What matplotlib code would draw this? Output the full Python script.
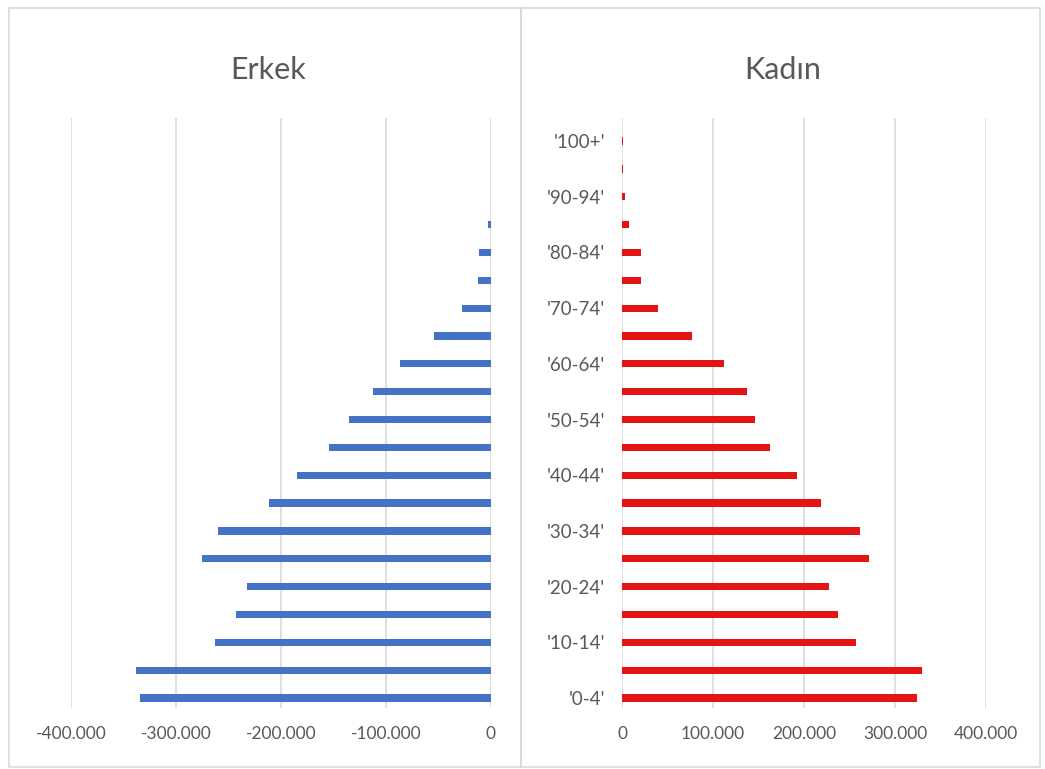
import matplotlib
matplotlib.use("Agg")
import matplotlib.pyplot as plt
from matplotlib.ticker import FuncFormatter
from matplotlib.patches import Rectangle
import numpy as np

# age groups, bottom to top
age_groups = ["'0-4'", "'5-9'", "'10-14'", "'15-19'", "'20-24'", "'25-29'", "'30-34'",
              "'35-39'", "'40-44'", "'45-49'", "'50-54'", "'55-59'", "'60-64'", "'65-69'",
              "'70-74'", "'75-79'", "'80-84'", "'85-89'", "'90-94'", "'95-99'", "'100+'"]

# male population (drawn as negative values)
erkek = [-334000, -338000, -263000, -243000, -232000, -275000, -260000,
         -211000, -185000, -154000, -135000, -112000, -87000, -54000,
         -28000, -12000, -11000, -3000, 0, 0, 0]

# female population
kadin = [324000, 330000, 257000, 237000, 227000, 271000, 262000,
         219000, 192000, 163000, 146000, 137000, 112000, 77000,
         40000, 21000, 21000, 8000, 3500, 1200, 1200]

left_ticks = [-400000, -300000, -200000, -100000, 0]
right_ticks = [0, 100000, 200000, 300000, 400000]

plt.rcParams['font.family'] = ['Lato', 'DejaVu Sans']
txt_col = '#595959'
grid_col = '#d9d9d9'

def fmt(v, pos):
    s = f"{abs(int(v)):,}".replace(",", ".")
    return ("-" + s) if v < 0 else s

fig = plt.figure(figsize=(10.45, 7.69), dpi=100)

# chart boxes
fig.patches.append(Rectangle((9/1045, 1-767/769), 512/1045, 759/769, transform=fig.transFigure,
                             fill=False, edgecolor=grid_col, lw=1.2))
fig.patches.append(Rectangle((521/1045, 1-767/769), 519/1045, 759/769, transform=fig.transFigure,
                             fill=False, edgecolor=grid_col, lw=1.2))

y = np.arange(len(age_groups))
bottom = 1 - 708/769
height = 590/769

ax1 = fig.add_axes([71/1045, bottom, 420/1045, height])
ax2 = fig.add_axes([622/1045, bottom, 364/1045, height])

ax1.barh(y, erkek, height=0.26, color='#4472C4', zorder=3)
ax2.barh(y, kadin, height=0.26, color='#E41414', zorder=3)

for ax, ticks in ((ax1, left_ticks), (ax2, right_ticks)):
    ax.set_xlim(ticks[0], ticks[-1])
    ax.set_ylim(-0.36, 20.83)
    ax.set_xticks(ticks)
    ax.xaxis.set_major_formatter(FuncFormatter(fmt))
    ax.grid(axis='x', color=grid_col, lw=1.2, zorder=0)
    for s in ax.spines.values():
        s.set_visible(False)
    ax.tick_params(axis='x', length=0, pad=13, labelsize=12.5, labelcolor=txt_col)

ax1.set_yticks([])
ax2.set_yticks(y[::2])
ax2.set_yticklabels(age_groups[::2])
ax2.tick_params(axis='y', length=0, pad=12, labelsize=13.5, labelcolor=txt_col)

fig.text(268/1045, 1-70/769, "Erkek", ha='center', va='center', fontsize=22, color=txt_col)
fig.text(783/1045, 1-70/769, "Kadın", ha='center', va='center', fontsize=22, color=txt_col)

fig.savefig("out.png", dpi=100)
